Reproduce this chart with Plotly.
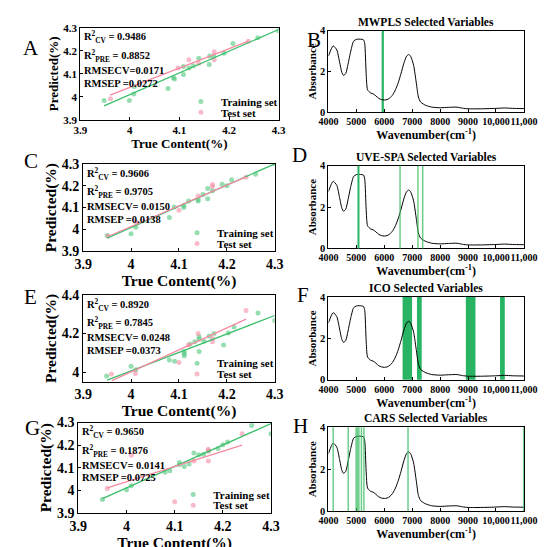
import plotly.graph_objects as go

W, H = 550, 547
FONT = "Liberation Serif"

# ---------------- data ----------------
true_ticks = [3.9, 4.0, 4.1, 4.2, 4.3]

a_train_x = [3.948, 3.999, 4.008, 4.009, 4.077, 4.088, 4.090, 4.108, 4.108, 4.119, 4.128,
             4.139, 4.160, 4.161, 4.169, 4.190, 4.208, 4.258, 4.300]
a_train_y = [3.985, 3.985, 4.013, 4.045, 4.037, 4.083, 4.078, 4.097, 4.132, 4.125, 4.135,
             4.168, 4.140, 4.177, 4.177, 4.189, 4.231, 4.256, 4.287]
a_test_x = [3.961, 4.097, 4.119, 4.139, 4.170, 4.170, 4.239]
a_test_y = [3.992, 4.125, 4.161, 4.146, 4.196, 4.161, 4.241]
a_train_fit = [[3.948, 4.300], [3.961, 4.292]]
a_test_fit = [[3.960, 4.239], [4.008, 4.242]]

c_train_x = [3.950, 4.000, 4.010, 4.080, 4.090, 4.110, 4.110, 4.120, 4.140, 4.140, 4.150,
             4.160, 4.160, 4.170, 4.190, 4.200, 4.210, 4.260, 4.300]
c_train_y = [3.972, 3.980, 4.010, 4.055, 4.103, 4.110, 4.100, 4.130, 4.137, 4.130, 4.160,
             4.187, 4.140, 4.177, 4.207, 4.200, 4.227, 4.252, 4.300]
c_test_x = [3.952, 4.010, 4.100, 4.140, 4.170, 4.170, 4.240]
c_test_y = [3.970, 4.035, 4.088, 4.153, 4.205, 4.195, 4.238]
c_train_fit = [[3.950, 4.300], [3.960, 4.300]]
c_test_fit = [[3.953, 4.240], [3.969, 4.240]]

e_train_x = [3.949, 4.000, 4.010, 4.080, 4.091, 4.111, 4.111, 4.111, 4.123, 4.133, 4.142,
             4.142, 4.142, 4.152, 4.163, 4.173, 4.193, 4.203, 4.215, 4.265, 4.300]
e_train_y = [3.980, 4.030, 4.012, 4.063, 4.056, 4.107, 4.085, 4.095, 4.146, 4.158, 4.107,
             4.183, 4.170, 4.160, 4.188, 4.200, 4.141, 4.203, 4.234, 4.307, 4.268]
e_test_x = [3.959, 4.009, 4.100, 4.120, 4.140, 4.170, 4.170, 4.240]
e_test_y = [3.990, 3.993, 4.050, 4.140, 4.200, 4.175, 4.158, 4.320]
e_train_fit = [[3.950, 4.300], [3.958, 4.294]]
e_test_fit = [[3.960, 4.240], [3.955, 4.275]]

g_train_x = [3.950, 4.000, 4.010, 4.080, 4.090, 4.110, 4.110, 4.120, 4.130, 4.140, 4.150,
             4.160, 4.170, 4.190, 4.200, 4.210, 4.260, 4.300]
g_train_y = [3.960, 4.003, 4.020, 4.080, 4.087, 4.123, 4.113, 4.105, 4.116, 4.165, 4.157,
             4.160, 4.173, 4.185, 4.202, 4.214, 4.287, 4.250]
g_test_x = [3.960, 4.010, 4.100, 4.140, 4.170, 4.170, 4.170, 4.240]
g_test_y = [4.008, 4.155, 3.950, 4.130, 4.182, 4.130, 4.175, 4.250]
g_train_fit = [[3.950, 4.300], [3.963, 4.295]]
g_test_fit = [[3.960, 4.240], [4.011, 4.200]]

stats_a = ["0.9486", "0.8852", "=0.0171", "=0.0272"]
stats_c = ["0.9606", "0.9705", "= 0.0150", "=0.0138"]
stats_e = ["0.8920", "0.7845", "= 0.0248", "=0.0373"]
stats_g = ["0.9650", "0.1876", "= 0.0141", "=0.0725"]

wavenumber = [4000, 4100, 4170, 4300, 4400, 4480, 4540, 4620, 4700, 4800, 4900, 5000,
              5100, 5200, 5260, 5300, 5350, 5400, 5500, 5600, 5700, 5800, 5900, 6000,
              6100, 6200, 6300, 6400, 6500, 6600, 6700, 6800, 6880, 6950, 7050, 7150,
              7220, 7300, 7400, 7500, 7700, 8000, 8300, 8600, 8800, 9000, 9500, 10000,
              10300, 10600, 11000]
absorbance = [2.75, 3.10, 3.25, 3.05, 2.45, 1.95, 1.80, 1.90, 2.35, 3.00, 3.48, 3.57,
              3.58, 3.57, 3.54, 3.35, 1.90, 1.10, 0.95, 0.90, 0.80, 0.68, 0.62, 0.60,
              0.62, 0.70, 0.85, 1.10, 1.45, 1.90, 2.40, 2.75, 2.83, 2.72, 2.30, 1.40,
              0.75, 0.50, 0.40, 0.33, 0.25, 0.22, 0.24, 0.25, 0.20, 0.17, 0.17, 0.19,
              0.21, 0.19, 0.18]
wn_ticks = [4000, 5000, 6000, 7000, 8000, 9000, 10000, 11000]
wn_labels = ["4000", "5000", "6000", "7000", "8000", "9000", "10,000", "11,000"]

mwpls_lo, mwpls_hi = [5905], [5985]
uvespa_lines = [5075, 6565, 7205, 7375]
ico_lo = [6655, 7170, 8920, 10145]
ico_hi = [6995, 7340, 9265, 10315]
cars_lines = [4170, 4710, 4990, 5040, 5090, 5180, 5270, 6850, 10990]

GREEN_PT = "rgba(80,200,125,0.6)"
PINK_PT = "rgba(245,140,165,0.6)"
GREEN_LN = "#3cbf6a"
PINK_LN = "#f58aa2"
BAND = "#28b463"
LIGHT = "rgba(60,190,100,0.75)"


def fx(p):
    return p / W


def fy(p):
    return 1 - p / H


fig = go.Figure()

# key, axis no, [left, right], top, bottom, y range, y ticks, tick size, title size, ...
left = [
    ("A", 1, [65, 272], 13, 108, [3.9, 4.3], true_ticks, 11, 13,
     a_train_x, a_train_y, a_test_x, a_test_y, a_train_fit, a_test_fit, stats_a),
    ("C", 3, [68, 268], 153, 243, [3.9, 4.3], true_ticks, 14, 15.5,
     c_train_x, c_train_y, c_test_x, c_test_y, c_train_fit, c_test_fit, stats_c),
    ("E", 5, [68, 268], 288, 377, [3.95, 4.4], [4.0, 4.2, 4.4], 14, 15.5,
     e_train_x, e_train_y, e_test_x, e_test_y, e_train_fit, e_test_fit, stats_e),
    ("G", 7, [63, 264], 419, 512, [3.9, 4.3], true_ticks, 14, 15.5,
     g_train_x, g_train_y, g_test_x, g_test_y, g_train_fit, g_test_fit, stats_g),
]
letter_pos = {"A": (14, 34), "B": (309, 26), "C": (14, 150), "D": (294, 144),
              "E": (13, 290), "F": (297, 288), "G": (15, 425), "H": (295, 423)}

RX0, RX1 = 324, 528
frame = dict(showline=True, linecolor="black", linewidth=1, mirror=True, ticks="inside",
             ticklen=3, tickcolor="black", showgrid=False, zeroline=False)

layout = {}
leg_n = 0


def legend_name():
    global leg_n
    leg_n += 1
    return "legend" if leg_n == 1 else f"legend{leg_n}"


for (key, n, xd, top, bot, yr, yt, tsz, ttl, trx, try_, tex, tey, trf, tef, st) in left:
    xa = "x" if n == 1 else f"x{n}"
    ya = "y" if n == 1 else f"y{n}"
    lg_tr = legend_name()
    lg_te = legend_name()
    fig.add_trace(go.Scatter(x=trx, y=try_, mode="markers", name="Training set", legend=lg_tr,
                             marker=dict(color=GREEN_PT, size=5), xaxis=xa, yaxis=ya))
    fig.add_trace(go.Scatter(x=tex, y=tey, mode="markers", name="Test set", legend=lg_te,
                             marker=dict(color=PINK_PT, size=5), xaxis=xa, yaxis=ya))
    fig.add_trace(go.Scatter(x=trf[0], y=trf[1], mode="lines", showlegend=False,
                             line=dict(color=GREEN_LN, width=1.3), xaxis=xa, yaxis=ya))
    fig.add_trace(go.Scatter(x=tef[0], y=tef[1], mode="lines", showlegend=False,
                             line=dict(color=PINK_LN, width=1.3), xaxis=xa, yaxis=ya))
    sfx = "" if n == 1 else str(n)
    layout["xaxis" + sfx] = dict(frame, domain=[fx(xd[0]), fx(xd[1])], anchor=ya,
                                 range=[3.9, 4.3], tickvals=true_ticks,
                                 tickfont=dict(family=FONT, size=tsz, weight="bold", color="black"),
                                 title=dict(text="True Content(%)", standoff=0,
                                            font=dict(family=FONT, size=ttl, weight="bold",
                                                      color="black")))
    layout["yaxis" + sfx] = dict(frame, domain=[fy(bot), fy(top)], anchor=xa, range=yr,
                                 tickvals=yt,
                                 tickfont=dict(family=FONT, size=tsz, weight="bold", color="black"),
                                 title=dict(text="Predicted(%)", standoff=1,
                                            font=dict(family=FONT, size=ttl, weight="bold",
                                                      color="black")))
    # legends sit in the lower right corner of each panel
    for lg, off in ((lg_tr, 19), (lg_te, 8)):
        layout[lg] = dict(x=fx(xd[1] - 102), y=fy(bot - off), xanchor="left", yanchor="middle",
                          bgcolor="rgba(0,0,0,0)", itemwidth=30, tracegroupgap=0,
                          font=dict(family=FONT, size=11, weight="bold", color="black"))
    lines = [f"R<sup>2</sup><sub>CV</sub> = {st[0]}", f"R<sup>2</sup><sub>PRE</sub> = {st[1]}",
             f"RMSECV{st[2]}", f"RMSEP {st[3]}"]
    for txt, off in zip(lines, [10, 29, 44, 57]):
        fig.add_annotation(x=fx(xd[0] + 2), y=fy(top + off), xref="paper", yref="paper",
                           text=txt, showarrow=False, xanchor="left", yanchor="middle",
                           font=dict(family=FONT, size=10.5, weight="bold", color="black"))

right = [
    ("B", 2, 16, 100, "MWPLS Selected Variables"),
    ("D", 4, 155, 240, "UVE-SPA Selected Variables"),
    ("F", 6, 290, 375, "ICO Selected Variables"),
    ("H", 8, 424, 510, "CARS Selected Variables"),
]
for key, n, top, bot, title in right:
    xa, ya = f"x{n}", f"y{n}"
    fig.add_trace(go.Scatter(x=wavenumber, y=absorbance, mode="lines", showlegend=False,
                             line=dict(color="black", width=1, shape="spline", smoothing=0.6),
                             xaxis=xa, yaxis=ya))
    layout[f"xaxis{n}"] = dict(frame, domain=[fx(RX0), fx(RX1)], anchor=ya, range=[4000, 11000],
                               tickvals=wn_ticks, ticktext=wn_labels, tickangle=0,
                               tickfont=dict(family=FONT, size=10, weight="bold", color="black"),
                               title=dict(text="Wavenumber(cm<sup>-1</sup>)", standoff=2,
                                          font=dict(family=FONT, size=12, weight="bold",
                                                    color="black")))
    layout[f"yaxis{n}"] = dict(frame, domain=[fy(bot), fy(top)], anchor=xa, range=[0, 4],
                               tickvals=[0, 2, 4],
                               tickfont=dict(family=FONT, size=10.5, weight="bold", color="black"),
                               title=dict(text="Absorbance", standoff=1,
                                          font=dict(family=FONT, size=11, weight="bold",
                                                    color="black")))
    fig.add_annotation(x=fx((RX0 + RX1) / 2), y=fy(top - 1), xref="paper", yref="paper",
                       text=title, showarrow=False, xanchor="center", yanchor="bottom",
                       font=dict(family=FONT, size=11.5, weight="bold", color="black"))


def vline(n, x, color, width):
    fig.add_shape(type="line", xref=f"x{n}", yref=f"y{n} domain", x0=x, x1=x, y0=0, y1=1,
                  line=dict(color=color, width=width), layer="above")


def vband(n, lo, hi, color):
    fig.add_shape(type="rect", xref=f"x{n}", yref=f"y{n} domain", x0=lo, x1=hi, y0=0, y1=1,
                  fillcolor=color, line=dict(width=0), layer="below")


for lo, hi in zip(mwpls_lo, mwpls_hi):
    vband(2, lo, hi, BAND)
for i, x in enumerate(uvespa_lines):
    vline(4, x, BAND if i == 0 else LIGHT, 2 if i == 0 else 1.5)
for lo, hi in zip(ico_lo, ico_hi):
    vband(6, lo, hi, BAND)
for x in cars_lines:
    vline(8, x, LIGHT, 1.5)

for key, (px, py) in letter_pos.items():
    fig.add_annotation(x=fx(px), y=fy(py), xref="paper", yref="paper", text=key,
                       showarrow=False, xanchor="center", yanchor="middle",
                       font=dict(family=FONT, size=21, color="black"))

fig.update_layout(width=W, height=H, margin=dict(l=0, r=0, t=0, b=0),
                  paper_bgcolor="white", plot_bgcolor="white", **layout)

fig.write_html("out.html")
